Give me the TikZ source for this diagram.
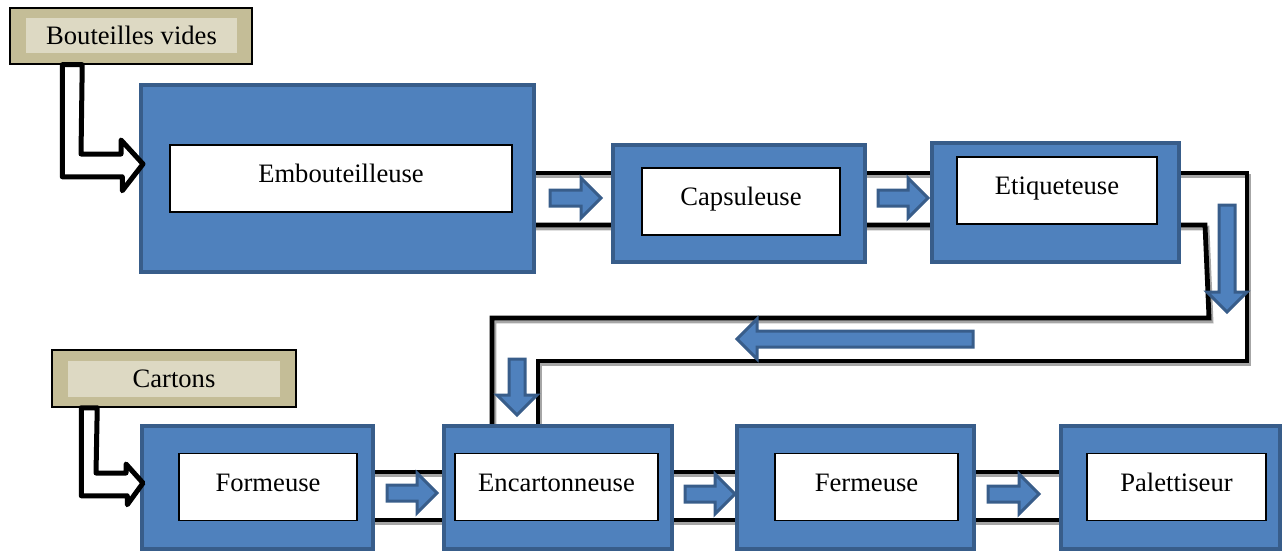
\documentclass[tikz,border=0pt]{standalone}
\usepackage{fontspec}
\setmainfont{Liberation Serif}
\usetikzlibrary{calc,backgrounds}
\definecolor{boxblue}{HTML}{4F81BD}
\definecolor{rimblue}{HTML}{385D8A}
\definecolor{tanout}{HTML}{C4BD97}
\definecolor{tanin}{HTML}{DDD9C3}
\definecolor{beltshade}{HTML}{A6A6A6}
\newcommand\Flow[4]{%
  \draw[flow,shift={(#1,#2)},rotate=#3]
    (0,-8) -- (#4-20,-8) -- (#4-20,-20) -- (#4,0) -- (#4-20,20) -- (#4-20,8) -- (0,8) -- cycle;}

\begin{document}
\begin{tikzpicture}[x=0.5pt,y=-0.5pt,
machine/.style={rectangle, draw=rimblue, line width=2pt, fill=boxblue, inner sep=0pt},
lowmachine/.style={machine, minimum height=61.5pt},
tag/.style={rectangle, draw, line width=0.8pt, fill=white, inner sep=0pt,
  text height=18.75pt, text depth=14.75pt, font=\fontsize{13.3}{16}\selectfont},
source/.style={rectangle, draw, line width=0.75pt, fill=tanout, minimum height=28pt, inner sep=0pt},
sourcetag/.style={rectangle, fill=tanin, minimum height=17.5pt, inner sep=0pt,
  font=\fontsize{13.3}{16}\selectfont},
belt/.style={line width=2.4pt,
  preaction={draw=beltshade, line width=2.4pt, transform canvas={xshift=1pt,yshift=-1.5pt}}},
flow/.style={fill=boxblue, draw=rimblue, line width=1.5pt},
hollow/.style={draw, fill=white, line width=2.5pt, line join=round}]
\useasboundingbox (0,0) rectangle (1284,551);

\node[source, minimum width=121pt] (bv) at (131,36) {};
\node[sourcetag, minimum width=105.5pt] (bvt) at (131.5,35.5) {Bouteilles vides};
\node[machine, minimum width=196.5pt, minimum height=93.5pt] (emb) at (337.5,178.5) {};
\node[tag, minimum width=171pt] (embt) at (341,178.5) {Embouteilleuse};
\node[machine, minimum width=126pt, minimum height=58.5pt] (cap) at (739,203.5) {};
\node[tag, minimum width=99pt] (capt) at (741,201.5) {Capsuleuse};
\node[machine, minimum width=123.5pt, minimum height=59.5pt] (eti) at (1055.5,202.5) {};
\node[tag, minimum width=100pt] (etit) at (1057,190.5) {Etiqueteuse};

\node[source, minimum width=122pt, minimum height=28.5pt] (ct) at (174,378.5) {};
\node[sourcetag, minimum width=106pt, minimum height=18pt] (ctt) at (174,379) {Cartons};
\node[lowmachine, minimum width=115.5pt] (form) at (257.5,487.5) {};
\node[tag, minimum width=89pt] (formt) at (268,487) {Formeuse};
\node[lowmachine, minimum width=114pt] (enc) at (558,487.5) {};
\node[tag, minimum width=101.5pt] (enct) at (556.5,487) {Encartonneuse};
\node[lowmachine, minimum width=118.5pt] (ferm) at (855.5,487.5) {};
\node[tag, minimum width=91.5pt] (fermt) at (866.5,487) {Fermeuse};
\node[lowmachine, minimum width=109.5pt] (pal) at (1170.5,487.5) {};
\node[tag, minimum width=89.5pt] (palt) at (1176.5,487) {Palettiseur};

\begin{pgfonlayer}{background}
\draw[belt] ($(emb.east)+(-10,-5.5)$) -| (1247,361) -| ($(enc.north)+(-20,0)$);
\draw[belt] ($(emb.east)+(-10,46.5)$) -- (1205,225) -- (1209,318) -| ($(enc.north)+(-66,0)$);
\draw[belt] ($(form.east)+(-10,-15.5)$) -- ($(pal.west)+(10,-15.5)$);
\draw[belt] ($(form.east)+(-10,32.5)$) -- ($(pal.west)+(10,32.5)$);
\end{pgfonlayer}

\draw[hollow] ($(bv.south west)+(53,0)$) coordinate (b1) -- ++(0,112) -- ++(60,0) -- ++(0,14)
  -- ($(emb.north west)+(4,81)$) -- ++(-22,-24) -- ++(0,14) -- ++(-40,0) -- ($(b1)+(20,0)$) -- cycle;
\draw[hollow] ($(ct.south west)+(30,0)$) coordinate (c1) -- ++(0,88) -- ++(46,0) -- ++(0,9)
  -- ($(form.north west)+(3,59)$) -- ++(-17,-19) -- ++(0,9) -- ++(-30,0) -- ($(c1)+(16,0)$) -- cycle;

\Flow{550}{198}{0}{51}
\Flow{878}{198}{0}{50}
\Flow{1227}{205}{-90}{107}
\Flow{973}{339}{180}{236}
\Flow{517}{359}{-90}{56}
\Flow{387}{493}{0}{50}
\Flow{685}{494}{0}{50}
\Flow{988}{494}{0}{51}
\end{tikzpicture}
\end{document}
